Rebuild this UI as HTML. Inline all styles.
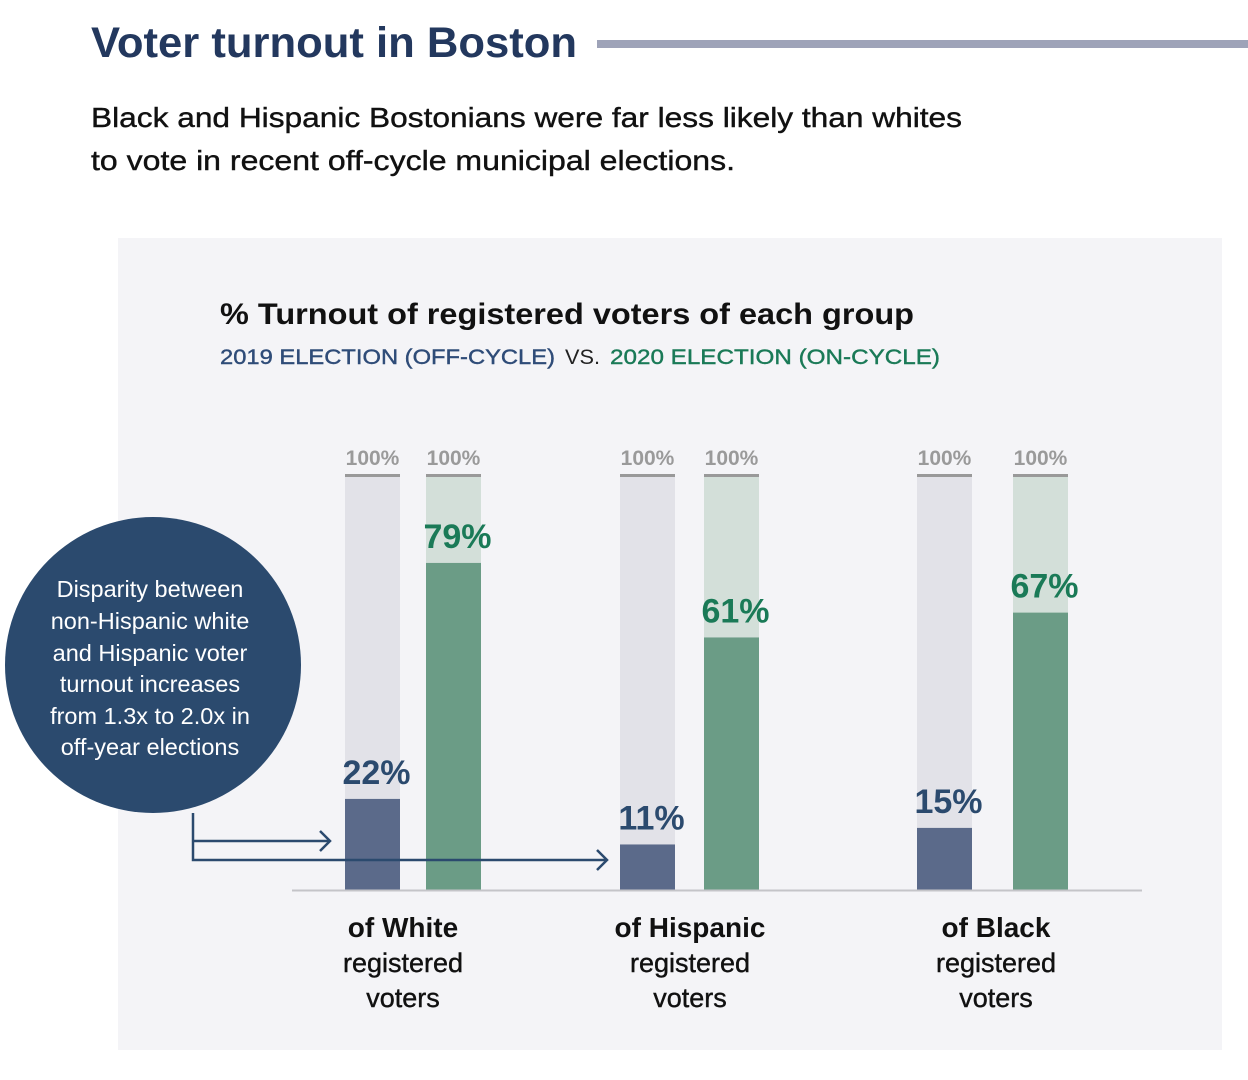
<!DOCTYPE html>
<html><head><meta charset="utf-8"><style>
html,body{margin:0;padding:0;background:#fff;}
svg{display:block;font-family:"Liberation Sans",sans-serif;}
</style></head><body>
<svg id="chart" width="1248" height="1080" viewBox="0 0 1248 1080">
<text x="91" y="57" font-size="43" font-weight="bold" fill="#23385e" textLength="486" lengthAdjust="spacingAndGlyphs">Voter turnout in Boston</text>
<rect x="597" y="40" width="651" height="8" fill="#9ea3b8"/>
<text x="91" y="127" font-size="28" fill="#111" stroke="#111" stroke-width="0.4" textLength="871" lengthAdjust="spacingAndGlyphs">Black and Hispanic Bostonians were far less likely than whites</text>
<text x="91" y="170" font-size="28" fill="#111" stroke="#111" stroke-width="0.4" textLength="644" lengthAdjust="spacingAndGlyphs">to vote in recent off-cycle municipal elections.</text>
<rect x="118" y="238" width="1104" height="812" fill="#f4f4f7"/>
<text x="220" y="324" font-size="30" font-weight="bold" fill="#111" textLength="694" lengthAdjust="spacingAndGlyphs">% Turnout of registered voters of each group</text>
<text x="220" y="364" font-size="21" fill="#2f4c78" stroke="#2f4c78" stroke-width="0.4" textLength="335" lengthAdjust="spacingAndGlyphs">2019 ELECTION (OFF-CYCLE)</text>
<text x="565" y="364" font-size="21" fill="#222" textLength="35" lengthAdjust="spacingAndGlyphs">VS.</text>
<text x="610" y="364" font-size="21" fill="#1a7a57" stroke="#1a7a57" stroke-width="0.4" textLength="330" lengthAdjust="spacingAndGlyphs">2020 ELECTION (ON-CYCLE)</text>
<g id="bars"></g>
<line x1="292" y1="890.5" x2="1142" y2="890.5" stroke="#c4c4c8" stroke-width="2"/>
<circle cx="153" cy="665" r="148" fill="#2b4a6e"/>
<g fill="#fff" font-size="23.5" text-anchor="middle">
<text x="150" y="597">Disparity between</text>
<text x="150" y="629">non-Hispanic white</text>
<text x="150" y="661">and Hispanic voter</text>
<text x="150" y="692">turnout increases</text>
<text x="150" y="724">from 1.3x to 2.0x in</text>
<text x="150" y="755">off-year elections</text>
</g>
<g stroke="#2b4a6e" stroke-width="2.5" fill="none">
<path d="M193 813 V860 H607"/>
<path d="M597 850 L607 860 L597 870"/>
<path d="M193 841 H330"/>
<path d="M320 831 L330 841 L320 851"/>
</g>
</svg>
<script>
const categories = ["White", "Hispanic", "Black"];
const turnout2019 = [22, 11, 15];
const turnout2020 = [79, 61, 67];
const maxLabels = ["100%", "100%"];
const NS = "http://www.w3.org/2000/svg";
const g = document.getElementById("bars");
const base = 890, top100 = 476, bw = 55;
const x2019 = [345, 620, 917], x2020 = [426, 704, 1013], centers = [403, 690, 996];
function y(v){ return base - (base - top100) * v / 100; }
function mk(tag, attrs){ const e = document.createElementNS(NS, tag); for (const k in attrs) e.setAttribute(k, attrs[k]); g.appendChild(e); return e; }
categories.forEach((c, i) => {
  const series = [[x2019[i], turnout2019[i], "#e2e2e8", "#5b6a8a", "#2b4a6e", "2019"], [x2020[i], turnout2020[i], "#d3dfd9", "#6b9c86", "#1a7a57", "2020"]];
  series.forEach((s, j) => {
    const bg = mk("rect", {x: s[0], y: top100, width: bw, height: base - top100, fill: s[2]});
    
    
    const cap = mk("rect", {x: s[0], y: top100 - 2, width: bw, height: 3, fill: "#999"});
    
    
    const t = mk("text", {x: s[0] + bw / 2, y: 465, "font-size": 21, "font-weight": "bold", fill: "#9a9a9a", "text-anchor": "middle"});
    t.textContent = maxLabels[j];
    
    
    const b = mk("rect", {x: s[0], y: y(s[1]), width: bw, height: base - y(s[1]), fill: s[3]});
    
    
    const v = mk("text", {x: s[0] + bw / 2 + 4, y: y(s[1]) - 15, "font-size": 34, "font-weight": "bold", fill: s[4], "text-anchor": "middle"});
    v.textContent = s[1] + "%";
    
    
  });
  const l1 = mk("text", {x: centers[i], y: 937, "font-size": 28, "font-weight": "bold", fill: "#111", "text-anchor": "middle"});
  l1.textContent = "of " + c;
  
  
  const l2 = mk("text", {x: centers[i], y: 972, "font-size": 27, fill: "#111", stroke: "#111", "stroke-width": 0.4, "text-anchor": "middle"});
  l2.textContent = "registered";
  
  
  const l3 = mk("text", {x: centers[i], y: 1007, "font-size": 27, fill: "#111", stroke: "#111", "stroke-width": 0.4, "text-anchor": "middle"});
  l3.textContent = "voters";
  
  
});
</script>
</body></html>
